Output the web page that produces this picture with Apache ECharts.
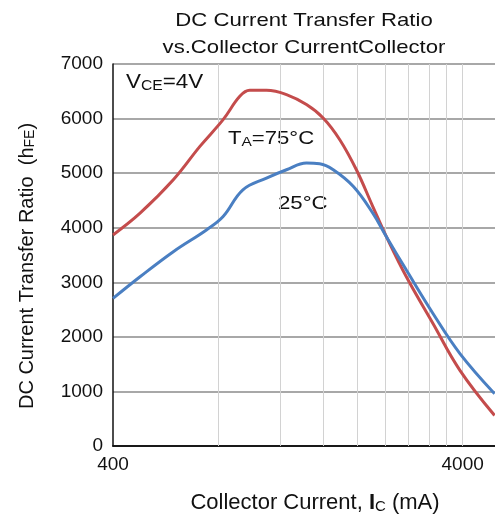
<!DOCTYPE html>
<html><head><meta charset="utf-8">
<script src="https://cdn.jsdelivr.net/npm/echarts@6/dist/echarts.min.js"></script>
<style>html,body{margin:0;padding:0;background:#fff}#c{width:495px;height:522px}</style>
</head><body><div id="c"></div>
<script>
var currentRed = [400, 478, 595, 709, 826, 922, 984, 1099, 1254, 1430, 1596, 1781, 1987, 2214, 2421, 2761, 3290, 3929, 4937];
var hfe75 = [3867, 4266, 4878, 5490, 5980, 6408, 6518, 6518, 6440, 6256, 6011, 5613, 5062, 4387, 3836, 3101, 2245, 1387, 560];
var currentBlue = [400, 478, 595, 740, 826, 941, 1099, 1254, 1430, 1560, 1706, 1948, 2214, 2421, 2761, 3290, 3929, 4937];
var hfe25 = [2704, 3101, 3561, 3959, 4204, 4694, 4909, 5062, 5185, 5172, 5062, 4755, 4266, 3836, 3224, 2429, 1694, 959];
var xTickLabels = [400, 4000];
var xGrid = [800, 1200, 1600, 2000, 2400, 2800, 3200, 3600, 4000];

function pairs(xs, ys){ return xs.map(function(x,i){ return [x, ys[i]]; }); }
var F = 'Liberation Sans, Arial, sans-serif';
var chart = echarts.init(document.getElementById('c'));
chart.setOption({
  animation: false,
  grid: {left: 113, right: 0, top: 64, bottom: 76},
  xAxis: [{
    type: 'log', logBase: 10, min: 400, max: 4950,
    axisLine: {show: true, onZero: false, lineStyle: {color: '#111', width: 1.5}},
    axisTick: {show: false},
    splitLine: {show: false},
    axisLabel: {customValues: xTickLabels, fontFamily: F, fontSize: 19, color: '#111', margin: 9,
                formatter: function(v){ return String(Math.round(v)); }},
    name: '{a|Collector Current, }{b|I}{s|C}{a| (mA)}',
    nameLocation: 'middle', nameGap: 46,
    nameTextStyle: {padding: [0, 0, 0, 22], rich: {
      a: {fontFamily: F, fontSize: 22, color: '#111'},
      b: {fontFamily: F, fontSize: 22, color: '#111', fontWeight: 'bold'},
      s: {fontFamily: F, fontSize: 15, color: '#111', padding: [7,0,0,0]}
    }}
  }, {
    type: 'log', logBase: 10, min: 400, max: 4950, position: 'top',
    axisLine: {show: true, lineStyle: {color: '#111', width: 1.5}},
    axisTick: {show: false}, axisLabel: {show: false}, splitLine: {show: false}
  }],
  yAxis: {
    type: 'value', min: 0, max: 7000, interval: 1000,
    axisLine: {show: true, lineStyle: {color: '#111', width: 1.5}},
    axisTick: {show: false},
    splitLine: {show: true, lineStyle: {color: '#a8a8a8', width: 2}},
    axisLabel: {fontFamily: F, fontSize: 19, color: '#111', margin: 10,
                formatter: function(v){ return String(v); }},
    name: '{a|DC Current Transfer Ratio  (h}{s|FE}{a|)}',
    nameLocation: 'middle', nameGap: 76, nameRotate: 90,
    nameTextStyle: {padding: [0, 22, 0, 0], rich: {
      a: {fontFamily: F, fontSize: 20, color: '#111'},
      s: {fontFamily: F, fontSize: 14, color: '#111', padding: [6,0,0,0]}
    }}
  },
  series: [
    {type: 'line', data: [], silent: true,
     markLine: {silent: true, symbol: 'none', label: {show: false},
       lineStyle: {color: '#d2d2d2', width: 1, type: 'solid'},
       data: xGrid.map(function(v){ return {xAxis: v}; })}},
    {type: 'line', name: '75C', data: pairs(currentRed, hfe75), smooth: 0.4, showSymbol: false,
     lineStyle: {color: '#c44c4c', width: 3}, z: 5},
    {type: 'line', name: '25C', data: pairs(currentBlue, hfe25), smooth: 0.4, showSymbol: false,
     lineStyle: {color: '#4a7fc2', width: 3}, z: 6}
  ],
  graphic: [
    {type: 'text', x: 304, y: 8, scaleX: 1.19, style: {
      text: 'DC Current Transfer Ratio\nvs.Collector CurrentCollector',
      fontFamily: F, fontSize: 18.6, fill: '#111', align: 'center', verticalAlign: 'top', lineHeight: 26.5}},
    {type: 'text', x: 126, y: 71, scaleX: 1.12, style: {
      verticalAlign: 'top',
      text: '{a|V}{s|CE}{a|=4V}', rich: {
        a: {fontFamily: F, fontSize: 20, fill: '#111'},
        s: {fontFamily: F, fontSize: 14, fill: '#111', padding: [8,0,0,0]}}}},
    {type: 'text', x: 228, y: 128, scaleX: 1.19, style: {
      verticalAlign: 'top',
      text: '{a|T}{s|A}{a|=75°C}', rich: {
        a: {fontFamily: F, fontSize: 18.6, fill: '#111'},
        s: {fontFamily: F, fontSize: 13, fill: '#111', padding: [8,0,0,0]}}}},
    {type: 'text', x: 278, y: 194, scaleX: 1.17, style: {
      verticalAlign: 'top',
      text: '25°C', fontFamily: F, fontSize: 19, fill: '#111'}}
  ]
});
</script></body></html>
